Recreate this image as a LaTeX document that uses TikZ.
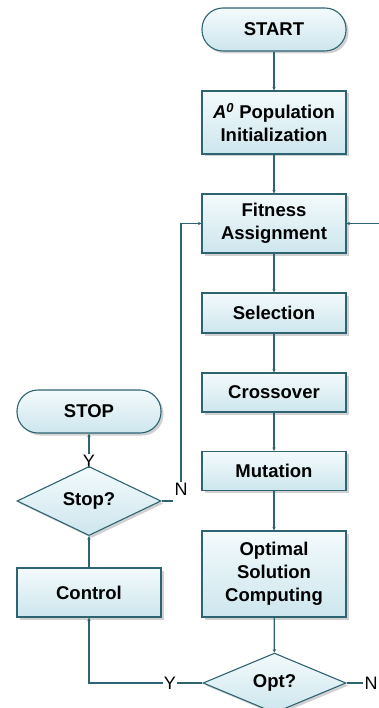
\documentclass[tikz,border=0pt]{standalone}
\usepackage{fontspec}
\setmainfont{Liberation Sans}
\usetikzlibrary{shapes.geometric,arrows.meta,shadows}
\definecolor{edge}{HTML}{2E6372}
\definecolor{filltop}{HTML}{F3FAFC}
\definecolor{fillbot}{HTML}{CDE6EE}
\tikzset{
  base/.style={draw=edge, line width=1.1pt, top color=filltop, bottom color=fillbot,
    drop shadow={shadow xshift=2.5pt, shadow yshift=-2.5pt, fill=black, opacity=0.18},
    font=\fontsize{18.5}{23}\selectfont\bfseries, align=center, inner sep=0pt},
  procbox/.style={base, rectangle, minimum width=144pt},
  pill/.style={base, rectangle, rounded corners=21pt, minimum width=144pt, minimum height=43pt},
  decision/.style={base, diamond},
  lbl/.style={font=\fontsize{18}{20}\selectfont, inner sep=1pt},
  conn/.style={draw=edge, line width=1.2pt},
  arr/.style={conn, -{Stealth[length=3.5pt,width=3.5pt]}}
}
\begin{document}
\begin{tikzpicture}[x=1pt,y=-1pt]
\useasboundingbox (0,0) rectangle (379,708);
\node[pill] (start) at (274,29.5) {START};
\node[procbox, minimum height=63pt] (init) at (274,122.5) {\textit{A}\textsuperscript{\textit{0}} Population\\Initialization};
\node[procbox, minimum height=59pt] (fit) at (274,223.5) {Fitness\\Assignment};
\node[procbox, minimum height=40pt] (sel) at (274,313) {Selection};
\node[procbox, minimum height=39pt] (cross) at (274,392.5) {Crossover};
\node[procbox, minimum height=39pt] (mut) at (274,471) {Mutation};
\node[procbox, minimum height=86pt] (optc) at (274,574) {Optimal\\Solution\\Computing};
\node[decision, minimum width=143pt, minimum height=50pt] (opt) at (274.5,683) {Opt?};
\node[procbox, minimum height=49pt] (ctrl) at (89,592.5) {Control};
\node[decision, minimum width=144pt, minimum height=65pt] (stopq) at (89,501) {Stop?};
\node[pill] (stop) at (89,411.5) {STOP};
\node[lbl] (ylow) at (170,683) {Y};
\node[lbl] (nlow) at (371,683) {N};
\node[lbl] (ystop) at (89,461) {Y};
\node[lbl] (nstop) at (181,489) {N};
\coordinate (nend) at (173,501);
\coordinate (rin) at (379,223.5);

\draw[arr] (start) -- (init);
\draw[arr] (init) -- (fit);
\draw[arr] (fit) -- (sel);
\draw[arr] (sel) -- (cross);
\draw[arr] (cross) -- (mut);
\draw[arr] (mut) -- (optc);
\draw[arr] (optc) -- (opt);
\draw[conn] (opt.west) -- (ylow.east);
\draw[arr] (ylow.west) -| (ctrl.south);
\draw[conn] (opt.east) -- (nlow.west);
\draw[arr] (ctrl) -- (stopq.south);
\draw[conn] (stopq.north) -- (ystop.south);
\draw[arr] (ystop.north) -- (stop.south);
\draw[conn] (stopq.east) -- (nend);
\draw[arr] (nstop.north) |- (fit.west);
\draw[arr] (rin) -- (fit.east);
\end{tikzpicture}
\end{document}
